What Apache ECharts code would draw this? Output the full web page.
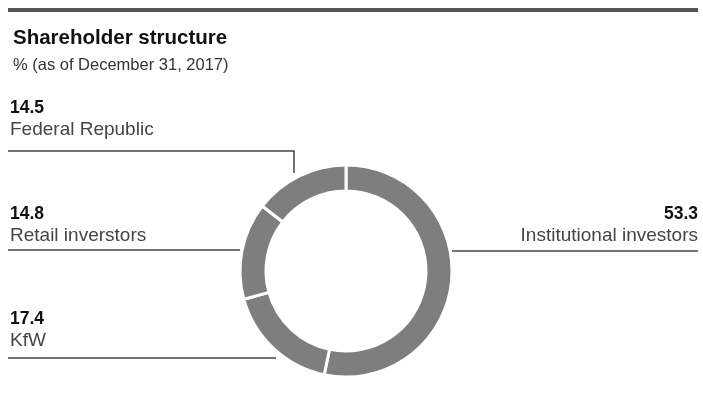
<!DOCTYPE html>
<html>
<head>
<meta charset="utf-8">
<script src="https://cdn.jsdelivr.net/npm/echarts@6/dist/echarts.min.js"></script>
<style>
    html, body { margin: 0; padding: 0; background: #fff; }
    #chart { width: 703px; height: 402px; }
</style>
</head>
<body>
<div id="chart"></div>
<script>
// 数据
const categories = ['Institutional investors', 'KfW', 'Retail inverstors', 'Federal Republic']
const shares = [53.3, 17.4, 14.8, 14.5]

// label placement (x, y of text block bottom, align, leader line points)
const labelSpots = [
    { x: 698, y: 247, align: 'right', line: [[452, 251], [575, 251], [698, 251]] },
    { x: 10, y: 352, align: 'left', line: [[276, 358], [140, 358], [8, 358]] },
    { x: 10, y: 247, align: 'left', line: [[240, 250], [120, 250], [8, 250]] },
    { x: 10, y: 141, align: 'left', line: [[294, 173], [294, 151], [8, 151]] }
]

const font = '"Liberation Sans", Arial, sans-serif'

let myChart = echarts.init(document.getElementById('chart'))

let option = {
    animation: false,
    title: {
        text: 'Shareholder structure',
        subtext: '% (as of December 31, 2017)',
        left: 8,
        top: 23,
        itemGap: 8,
        textStyle: { fontFamily: font, fontSize: 20.5, fontWeight: 'bold', color: '#111' },
        subtextStyle: { fontFamily: font, fontSize: 16.5, color: '#333' }
    },
    graphic: [
        {
            type: 'rect',
            shape: { x: 8, y: 8, width: 690, height: 4 },
            style: { fill: '#555' }
        }
    ],
    series: [{
        type: 'pie',
        center: [346, 271],
        radius: [80, 106],
        startAngle: 90,
        clockwise: true,
        avoidLabelOverlap: false,
        itemStyle: {
            color: '#7e7e7e',
            borderColor: '#fff',
            borderWidth: 3
        },
        emphasis: { disabled: true },
        label: {
            show: true,
            position: 'outside',
            formatter: function (p) {
                return '{v|' + p.value.toFixed(1) + '}\n{n|' + p.name + '}'
            },
            rich: {
                v: { fontFamily: font, fontSize: 17.5, fontWeight: 'bold', color: '#111', lineHeight: 20 },
                n: { fontFamily: font, fontSize: 19, color: '#444', lineHeight: 23 }
            }
        },
        labelLine: {
            show: true,
            lineStyle: { color: '#444', width: 1.5 }
        },
        labelLayout: function (params) {
            const s = labelSpots[params.dataIndex]
            return {
                x: s.x,
                y: s.y,
                align: s.align,
                verticalAlign: 'bottom',
                labelLinePoints: s.line
            }
        },
        data: categories.map((c, i) => ({ name: c, value: shares[i] }))
    }]
}

myChart.setOption(option)
</script>
</body>
</html>
